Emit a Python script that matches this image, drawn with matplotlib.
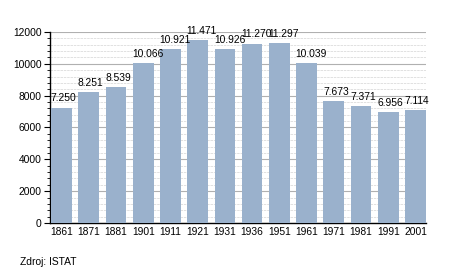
import matplotlib
matplotlib.use('Agg')
import matplotlib.pyplot as plt
from matplotlib.ticker import MultipleLocator
import numpy as np

plt.rcParams['font.family'] = ['Liberation Sans', 'DejaVu Sans']
plt.rcParams['font.size'] = 7.4

years = ['1861', '1871', '1881', '1901', '1911', '1921', '1931',
         '1936', '1951', '1961', '1971', '1981', '1991', '2001']
popolazione = [7250, 8251, 8539, 10066, 10921, 11471, 10926,
               11270, 11297, 10039, 7673, 7371, 6956, 7114]
etichette = ['7.250', '8.251', '8.539', '10.066', '10.921', '11.471', '10.926',
             '11.270', '11.297', '10.039', '7.673', '7.371', '6.956', '7.114']

fig = plt.figure(figsize=(4.55, 2.73), dpi=100)
ax = fig.add_axes([0.110, 0.183, 0.826, 0.700])

x = np.arange(len(years))
w = 0.76
ax.bar(x, popolazione, width=w, align='edge', color='#9ab1cc', zorder=3)

for xi, v, t in zip(x, popolazione, etichette):
    ax.text(xi - 0.02, v + 260, t, ha='left', va='bottom', zorder=4)

ax.set_xlim(-0.04, len(years) - 1 + w)
ax.set_ylim(0, 12000)
ax.set_xticks(x + w / 2)
ax.set_xticklabels(years)
ax.tick_params(axis='x', length=0, pad=3)
ax.yaxis.set_major_locator(MultipleLocator(2000))
ax.yaxis.set_minor_locator(MultipleLocator(400))
ax.tick_params(axis='y', which='major', length=4, width=0.8, pad=2)
ax.tick_params(axis='y', which='minor', length=2, width=0.6)

ax.grid(axis='y', which='major', color='#b0b0b0', linewidth=0.8, zorder=0)
ax.grid(axis='y', which='minor', color='#dcdcdc', linewidth=0.6, linestyle=(0, (3, 1)), zorder=0)

for s in ['top', 'right']:
    ax.spines[s].set_visible(False)
ax.spines['left'].set_linewidth(1.0)
ax.spines['bottom'].set_linewidth(1.0)

fig.text(20 / 455, 1 - 262 / 273, 'Zdroj: ISTAT', ha='left', va='center')

fig.savefig('out.png', dpi=100)
